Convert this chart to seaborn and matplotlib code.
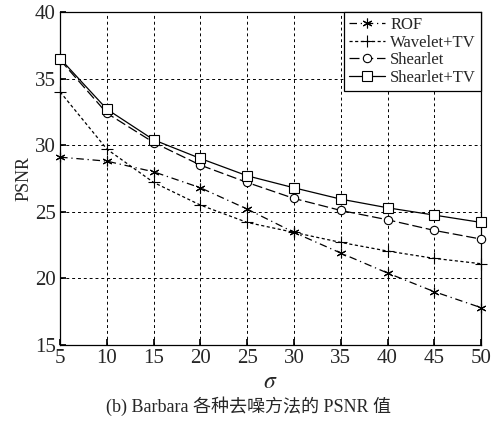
import numpy as np
import pandas as pd
import matplotlib
matplotlib.use('Agg')
import matplotlib.pyplot as plt
import seaborn as sns

sigma = [5, 10, 15, 20, 25, 30, 35, 40, 45, 50]
rof = [29.1, 28.8, 28.0, 26.8, 25.2, 23.45, 21.9, 20.4, 19.0, 17.8]
wavelet_tv = [34.0, 29.7, 27.2, 25.5, 24.2, 23.45, 22.7, 22.05, 21.5, 21.1]
shearlet = [36.4, 32.4, 30.2, 28.5, 27.2, 26.0, 25.1, 24.4, 23.6, 22.95]
shearlet_tv = [36.5, 32.7, 30.4, 29.0, 27.7, 26.8, 25.95, 25.3, 24.75, 24.2]

methods = ['ROF', 'Wavelet+TV', 'Shearlet', 'Shearlet+TV']
values = [rof, wavelet_tv, shearlet, shearlet_tv]

sns.set_theme(style='white')
plt.rcParams['font.family'] = ['Liberation Serif', 'Noto Sans CJK SC']
plt.rcParams['mathtext.fontset'] = 'stix'

df = pd.DataFrame({
    'sigma': sigma * len(methods),
    'psnr': sum(values, []),
    'method': np.repeat(methods, len(sigma)),
})

styles = {
    'ROF': dict(ls=(0, (6, 3, 1, 3)), marker=(6, 2, 0), ms=7, mfc='black'),
    'Wavelet+TV': dict(ls=(0, (2.5, 2)), marker='+', ms=8, mfc='none'),
    'Shearlet': dict(ls=(0, (8, 3)), marker='o', ms=6, mfc='white'),
    'Shearlet+TV': dict(ls='-', marker='s', ms=6.5, mfc='white'),
}

fig = plt.figure(figsize=(4.97, 4.28), dpi=100)
ax = fig.add_axes([0.121, 0.194, 0.847, 0.778])

for m in methods:
    st = styles[m]
    sns.lineplot(data=df[df['method'] == m], x='sigma', y='psnr', ax=ax,
                 color='black', linestyle=st['ls'], linewidth=0.9,
                 marker=st['marker'], markersize=st['ms'],
                 markerfacecolor=st['mfc'], markeredgecolor='black',
                 markeredgewidth=0.8, label=m, clip_on=False, zorder=3)

ax.set_xlim(5, 50)
ax.set_ylim(15, 40)
ax.set_xticks(sigma)
ax.set_yticks([15, 20, 25, 30, 35, 40])
ax.grid(True, color='black', linestyle=(0, (3, 3)), linewidth=0.7)
for s in ax.spines.values():
    s.set_color('black')
    s.set_linewidth(0.9)
ax.tick_params(axis='both', labelsize=15, direction='in', length=4,
               color='black', left=True, bottom=True, pad=3)

ax.set_xlabel(r'$\sigma$', fontsize=17, labelpad=3)
ax.set_ylabel('PSNR', fontsize=13, labelpad=2)

leg = ax.legend(loc='upper right', fontsize=12, frameon=True, fancybox=False,
                edgecolor='black', borderpad=0.3, labelspacing=0.1,
                handlelength=2.2, handletextpad=0.3, borderaxespad=0.0,
                framealpha=1)
leg.get_frame().set_linewidth(0.9)
leg.set_zorder(5)

fig.text(0.5, 0.052, '(b) Barbara 各种去噪方法的 PSNR 值', ha='center',
         va='center', fontsize=13)

fig.savefig('out.png', dpi=100)
